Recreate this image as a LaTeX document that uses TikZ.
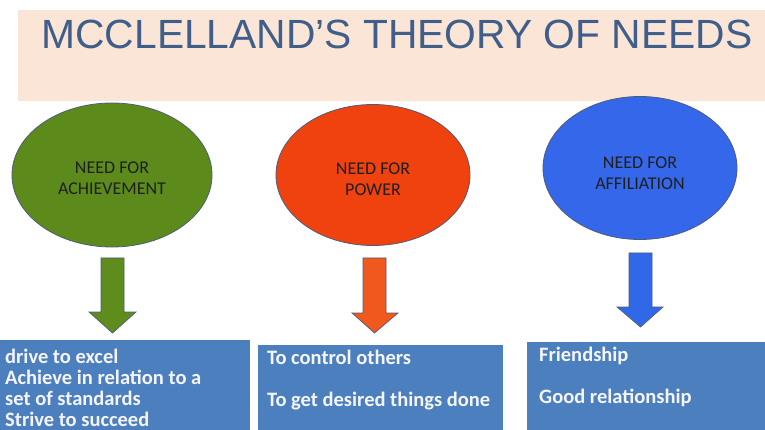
\documentclass[tikz,border=0pt]{standalone}
\usepackage{fontspec}
\setmainfont{Carlito}
\newfontfamily\titlefont{Liberation Sans}
\usetikzlibrary{shapes.geometric}
\definecolor{band}{HTML}{FBE5D7}
\definecolor{titlec}{HTML}{3F5F8A}
\definecolor{greenc}{HTML}{5C8B1C}
\definecolor{orangec}{HTML}{F0420F}
\definecolor{bluec}{HTML}{3467EA}
\definecolor{garrow}{HTML}{5E8D1E}
\definecolor{oarrow}{HTML}{F0581E}
\definecolor{barrow}{HTML}{3069E8}
\definecolor{boxc}{HTML}{4C7FBE}
\definecolor{edgec}{HTML}{4E5B78}
\tikzset{
  needel/.style={ellipse, draw=edgec, line width=0.8pt, inner sep=0pt},
  needtext/.style={align=center, font=\fontsize{18}{20.5}\selectfont, text=black!88},
  infobox/.style={rectangle, fill=boxc, inner sep=0pt, anchor=north west},
  infotext/.style={align=left, anchor=base west, inner sep=0pt, text=white!96!blue, font=\bfseries\fontsize{20.5}{21}\selectfont},
  blockarrow/.style={draw=edgec, line width=0.7pt, line join=miter}
}
\begin{document}
\begin{tikzpicture}[x=1pt,y=-1pt]
\useasboundingbox (0,0) rectangle (765,430);
% header band
\fill[band] (18,10) rectangle (765,101);
\node[font=\titlefont\fontsize{40.8}{44}\selectfont, text=titlec, inner sep=0pt] (title) at (397,34) {MCCLELLAND’S THEORY OF NEEDS};
% ellipses
\node[needel, fill=greenc, minimum width=200pt, minimum height=144pt] (ach) at (112,175) {};
\node[needtext] (achT) at (112,178) {NEED FOR\\ACHIEVEMENT};
\node[needel, fill=orangec, minimum width=194pt, minimum height=141pt] (pow) at (373,175) {};
\node[needtext] (powT) at (373,179) {NEED FOR\\POWER};
\node[needel, fill=bluec, minimum width=194pt, minimum height=143pt] (aff) at (640,168) {};
\node[needtext] (affT) at (640,173) {NEED FOR\\AFFILIATION};
% block arrows
\draw[blockarrow, fill=garrow] (101,258) -- (124,258) -- (124,312) -- (136,312) -- (112.5,333) -- (89,312) -- (101,312) -- cycle;
\draw[blockarrow, fill=oarrow] (363,258) -- (386,258) -- (386,313) -- (398,313) -- (374.5,333) -- (352,313) -- (363,313) -- cycle;
\draw[blockarrow, fill=barrow] (629,253) -- (652,253) -- (652,307) -- (663,307) -- (640.5,327) -- (617,307) -- (629,307) -- cycle;
% boxes
\node[infobox, minimum width=250pt, minimum height=90pt] (b1) at (0,340) {};
\node[infotext] (b1T) at (5,426) {drive to excel\\Achieve in relation to a\\set of standards\\Strive to succeed};
\node[infobox, minimum width=245pt, minimum height=85pt] (b2) at (258,345) {};
\node[infotext, font=\bfseries\fontsize{20.5}{42}\selectfont] (b2T) at (267,406) {To control others\\To get desired things done};
\node[infobox, minimum width=238pt, minimum height=88pt] (b3) at (527,342) {};
\node[infotext, font=\bfseries\fontsize{20.5}{42}\selectfont] (b3T) at (539,403) {Friendship\\Good relationship};
\end{tikzpicture}
\end{document}
